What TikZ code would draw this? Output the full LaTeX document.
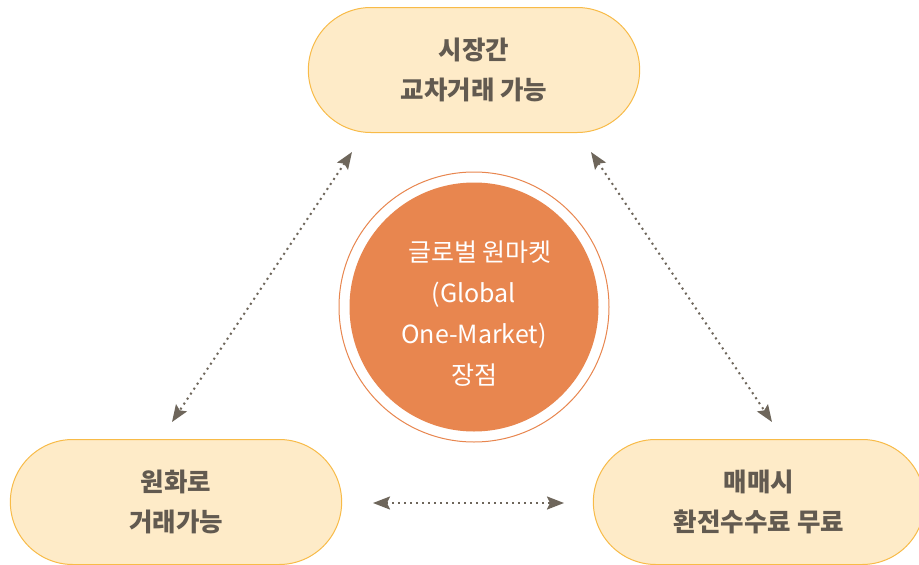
\documentclass[tikz,border=0pt]{standalone}
\usepackage{fontspec}
\setmainfont{Noto Sans CJK KR}
\usetikzlibrary{shapes.misc,arrows.meta}
\definecolor{pillfill}{HTML}{FEEBC8}
\definecolor{pillline}{HTML}{F8BB48}
\definecolor{pilltext}{HTML}{625A50}
\definecolor{orangec}{HTML}{E8864F}
\definecolor{arrowc}{HTML}{6E665B}
\tikzset{
  pill/.style={rounded rectangle, draw=pillline, fill=pillfill, line width=1pt,
    minimum width=338pt, minimum height=125pt, text=pilltext, align=center,
    font=\fontsize{25.5}{40}\selectfont\bfseries},
  link/.style={arrowc, line width=2pt, dash pattern=on 2pt off 4pt,
    {Stealth[length=17pt,width=13pt,inset=3pt]}-{Stealth[length=17pt,width=13pt,inset=3pt]}},
}
\begin{document}
\begin{tikzpicture}[x=1pt,y=-1pt]
\clip (0,0) rectangle (919,565);
\useasboundingbox (0,0) rectangle (919,565);
\fill[white] (0,0) rectangle (919,565);
\node[pill] (top) at (474,70) {시장간\\교차거래 가능};
\node[pill] (bl) at (176,502) {원화로\\거래가능};
\node[pill] (br) at (759,502) {매매시\\환전수수료 무료};
\node[circle, draw=orangec, line width=1pt, minimum size=270pt, inner sep=0pt] (ring) at (474,307) {};
\node[circle, fill=orangec, minimum size=249pt, inner sep=0pt] (core) at (474,307) {};
\node[text=white, align=center, font=\fontsize{25}{41}\selectfont] (label) at (474,314)
  {\hspace{12pt}글로벌 원마켓\\(Global\\One-Market)\\장점};
\coordinate (a1) at (352,152);
\coordinate (a2) at (172,422);
\coordinate (b1) at (591,152);
\coordinate (b2) at (772,422);
\coordinate (c1) at (373,503);
\coordinate (c2) at (564,503);
\draw[link] (a1) -- (a2);
\draw[link] (b1) -- (b2);
\draw[link] (c1) -- (c2);
\end{tikzpicture}
\end{document}
